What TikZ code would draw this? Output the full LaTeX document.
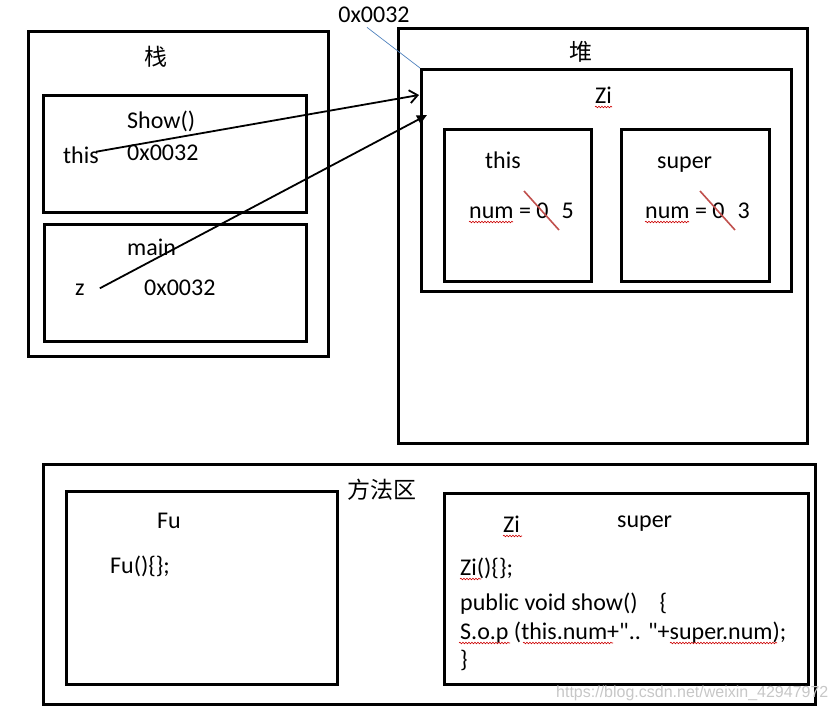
\documentclass[tikz,border=0pt]{standalone}
\usepackage{fontspec}
\setmainfont{Carlito}
\newfontfamily\cjk{Noto Sans CJK SC}
\newfontfamily\wmfont{Liberation Sans}
\usetikzlibrary{arrows.meta,decorations.pathmorphing}
\definecolor{strikered}{RGB}{192,80,77}
\definecolor{leaderblue}{RGB}{79,129,189}

\begin{document}
\begin{tikzpicture}
    [x=1pt,y=-1pt,
     box/.style={draw, line width=3pt, rectangle, anchor=north west, inner sep=0pt},
     txt/.style={inner sep=0pt, anchor=base west, font=\fontsize{24}{28}\selectfont},
     zh/.style={inner sep=0pt, font=\cjk\fontsize{23}{28}\selectfont},
     ptr/.style={line width=1.8pt, -{Straight Barb[length=8pt,width=13pt,line width=1.8pt]}},
     ptrfill/.style={line width=1.8pt, -{Triangle[length=10pt,width=9pt]}},
     strike/.style={draw=strikered, line width=1.6pt},
     spell/.style={draw=red!80!black, line width=0.6pt, decorate,
       decoration={snake, amplitude=0.8pt, segment length=3pt}}]
    \useasboundingbox (0,0) rectangle (836,713);

    % frames
    \foreach \name/\x/\y/\w/\h in {stack/27/30/300/325, showframe/42/94/263/117,
      mainframe/43/223/262/117, heap/397/27/409/415, ziobj/420/68/370/222,
      thispart/443/128/147/152, superpart/620/128/148/152,
      method/42/463/772/240, fuclass/65/490/271/193, ziclass/443/492/364/191}
    \node[box, minimum width=\w pt, minimum height=\h pt] (\name) at (\x,\y) {};

    % stack
    \node[zh] (stacklbl) at (156,57) {栈};
    \node[txt] (showlbl) at (127,128) {Show()};
    \node[txt] (thisref) at (63,163) {this};
    \node[txt] (showaddr) at (127,160) {0x0032};
    \node[txt] (mainlbl) at (127,255) {main};
    \node[txt] (zref) at (75,295) {z};
    \node[txt] (mainaddr) at (144,295) {0x0032};

    % heap
    \node[txt, anchor=base] (addrtop) at (374,22) {0x0032};
    \node[zh] (heaplbl) at (581,52) {堆};
    \node[txt] (zilbl) at (595,103) {Zi};
    \node[txt] (thislbl) at (485,168) {this};
    \node[txt] (thisnum) at (469,218) {num = 0\hspace{13pt}5};
    \node[txt] (superlbl) at (657,168) {super};
    \node[txt] (supernum) at (645,218) {num = 0\hspace{13pt}3};

    % method area
    \node[zh] (methodlbl) at (382,490) {方法区};
    \node[txt] (fulbl) at (157,528) {Fu};
    \node[txt] (fuctor) at (110,573) {Fu()\{\};};
    \node[txt] (zilbl2) at (503,532) {Zi};
    \node[txt] (superlbl2) at (617,527) {super};
    \node[txt] (zictor) at (460,575) {Zi()\{\};};
    \node[txt] (showdef) at (460,610) {public void show()\hspace{22pt}\{};
    \node[txt] (sopline) at (460,639) {S.o.p (this.num+\textquotedbl.. \textquotedbl+super.num);};
    \node[txt] (closebr) at (460,667) {\}};

    \node[inner sep=0pt, anchor=base west, text=black!22,
      font=\wmfont\fontsize{16}{18}\selectfont] (wmark) at (556,697)
      {https://blog.csdn.net/weixin\_42947972};

    % references
    \coordinate (tip1) at (419,95);
    \coordinate (tip2) at (427,115);
    \draw[ptr] ([xshift=-3pt,yshift=3pt]thisref.east) -- (tip1);
    \draw[ptrfill] ([xshift=15pt,yshift=1pt]zref.east) -- (tip2);
    \draw[leaderblue, line width=0.7pt] ([xshift=-7pt,yshift=-5pt]addrtop.south) -- (ziobj.north west);

    % crossed out values
    \draw[strike] (524,191) -- (559,230);
    \draw[strike] (700,191) -- (735,230);

    % spelling marks
    \foreach \xa/\xb/\y in {595/612/107, 469/513/222, 645/689/222, 503/522/536,
      460/481/579, 459/510/643, 523/613/643, 670/777/643}
    \draw[spell] (\xa,\y) -- (\xb,\y);
  \end{tikzpicture}
\end{document}
